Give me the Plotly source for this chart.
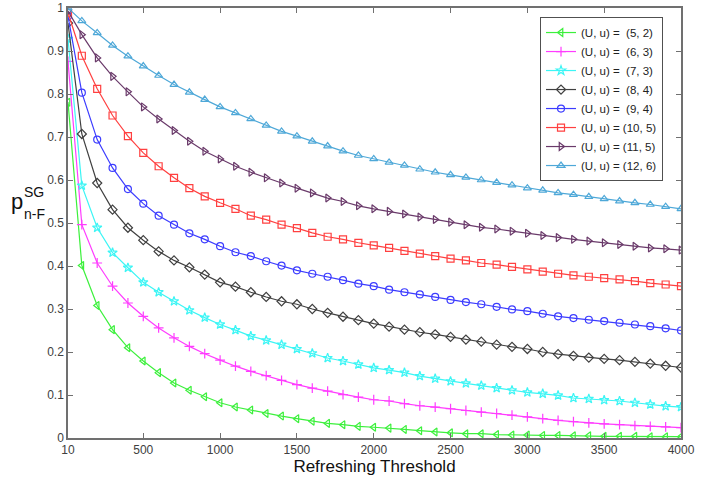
import plotly.graph_objects as go

x_vals = [10] + list(range(100, 4001, 100))

green_52 = [0.781,0.401,0.308,0.252,0.210,0.179,0.152,0.128,0.111,0.096,0.082,
            0.072,0.065,0.057,0.051,0.045,0.039,0.034,0.031,0.027,0.025,
            0.023,0.020,0.017,0.014,0.012,0.010,0.010,0.008,0.007,0.007,
            0.006,0.006,0.005,0.005,0.004,0.004,0.004,0.003,0.003,0.003]
magenta_63 = [0.876,0.496,0.407,0.353,0.314,0.283,0.256,0.233,0.213,0.196,0.181,
              0.167,0.155,0.145,0.134,0.124,0.116,0.109,0.101,0.095,0.089,
              0.086,0.080,0.075,0.072,0.068,0.064,0.060,0.057,0.053,0.049,
              0.045,0.041,0.038,0.035,0.033,0.031,0.029,0.027,0.026,0.024]
cyan_73 = [0.928,0.587,0.489,0.431,0.396,0.362,0.339,0.318,0.297,0.280,0.264,
           0.251,0.237,0.227,0.217,0.207,0.197,0.186,0.179,0.171,0.163,
           0.158,0.152,0.144,0.138,0.132,0.127,0.122,0.116,0.111,0.106,
           0.103,0.099,0.093,0.091,0.088,0.086,0.082,0.078,0.074,0.072]
black_84 = [0.965,0.707,0.593,0.531,0.489,0.460,0.434,0.413,0.397,0.380,0.362,
            0.352,0.339,0.328,0.318,0.311,0.300,0.291,0.282,0.274,0.266,
            0.259,0.252,0.246,0.241,0.235,0.229,0.224,0.217,0.212,0.207,
            0.200,0.195,0.191,0.187,0.184,0.181,0.177,0.173,0.168,0.164]
blue_94 = [0.981,0.803,0.694,0.628,0.579,0.545,0.517,0.496,0.476,0.462,0.446,
           0.432,0.423,0.411,0.401,0.390,0.382,0.375,0.367,0.359,0.353,
           0.345,0.339,0.334,0.328,0.321,0.316,0.311,0.305,0.299,0.295,
           0.289,0.283,0.279,0.275,0.272,0.268,0.264,0.260,0.255,0.250]
red_105 = [0.989,0.889,0.812,0.750,0.702,0.663,0.632,0.605,0.581,0.562,0.547,
           0.533,0.517,0.508,0.496,0.488,0.477,0.468,0.462,0.454,0.448,
           0.442,0.435,0.429,0.423,0.417,0.413,0.407,0.403,0.398,0.392,
           0.387,0.382,0.378,0.375,0.372,0.369,0.365,0.360,0.357,0.353]
purple_115 = [0.993,0.938,0.884,0.841,0.805,0.770,0.742,0.715,0.690,0.667,0.649,
              0.632,0.618,0.605,0.593,0.581,0.570,0.558,0.550,0.540,0.533,
              0.527,0.521,0.514,0.508,0.502,0.496,0.490,0.486,0.481,0.476,
              0.471,0.466,0.462,0.458,0.454,0.450,0.446,0.442,0.440,0.437]
lightblue_126 = [1.000,0.970,0.942,0.913,0.888,0.865,0.843,0.822,0.804,0.787,0.770,
                 0.756,0.742,0.727,0.713,0.702,0.690,0.679,0.667,0.657,0.649,
                 0.641,0.634,0.625,0.618,0.612,0.606,0.600,0.594,0.588,0.581,
                 0.576,0.570,0.566,0.561,0.556,0.551,0.547,0.543,0.538,0.533]

NB = "\u00a0"
labels = [f"(U, u) = {NB}(5, 2)", f"(U, u) = {NB}(6, 3)", f"(U, u) = {NB}(7, 3)",
          f"(U, u) = {NB}(8, 4)", f"(U, u) = {NB}(9, 4)", "(U, u) = (10, 5)",
          "(U, u) = (11, 5)", "(U, u) = (12, 6)"]
series = [green_52, magenta_63, cyan_73, black_84, blue_94, red_105, purple_115, lightblue_126]
colors = ["#3cf03c", "#ff3cff", "#3cf5f5", "#404040", "#3c3cff", "#ff4040", "#6a3a6a", "#4ea8d8"]
symbols = ["triangle-left-open", "cross-thin-open", "star-open", "diamond-open",
           "circle-open", "square-open", "triangle-right-open", "triangle-up-open"]

fig = go.Figure()
for lab, ys, c, s in zip(labels, series, colors, symbols):
    fig.add_trace(go.Scatter(
        x=x_vals, y=ys, name=lab, mode="lines+markers",
        line=dict(color=c, width=1.2),
        marker=dict(symbol=s, size=7, color=c, line=dict(color=c, width=1.2)),
    ))

axis_common = dict(showline=True, linecolor="#707070", linewidth=1.5, mirror="allticks",
                   ticks="inside", ticklen=5, tickcolor="#707070", showgrid=False,
                   zeroline=False, automargin=False,
                   tickfont=dict(family="Arial, Liberation Sans", size=12, color="#404040"))

fig.update_layout(
    width=722, height=482,
    margin=dict(l=68, r=41, t=8, b=44, autoexpand=False),
    paper_bgcolor="white", plot_bgcolor="white",
    font=dict(family="Arial, Liberation Sans", color="#222"),
    xaxis=dict(range=[10, 4000], tickvals=[10, 500, 1000, 1500, 2000, 2500, 3000, 3500, 4000],
               title=dict(text="Refreshing Threshold", font=dict(size=17, color="#111"), standoff=2),
               **axis_common),
    yaxis=dict(range=[0, 1], tickvals=[0, 0.1, 0.2, 0.3, 0.4, 0.5, 0.6, 0.7, 0.8, 0.9, 1],
               ticktext=["0", "0.1", "0.2", "0.3", "0.4", "0.5", "0.6", "0.7", "0.8", "0.9", "1"],
               **axis_common),
    legend=dict(x=0.77, y=0.979, xanchor="left", yanchor="top",
                bgcolor="white", bordercolor="#505050", borderwidth=1,
                font=dict(family="Arial, Liberation Sans", size=11.5, color="#222"),
                itemwidth=30, tracegroupgap=0),
    showlegend=True,
)

fig.add_annotation(text="p", xref="paper", yref="paper", x=-0.083, y=0.55,
                   showarrow=False, font=dict(size=22, color="#111"), xanchor="center", yanchor="middle")
fig.add_annotation(text="SG", xref="paper", yref="paper", x=-0.075, y=0.573,
                   showarrow=False, font=dict(size=14, color="#111"), xanchor="left", yanchor="middle")
fig.add_annotation(text="n-F", xref="paper", yref="paper", x=-0.075, y=0.521,
                   showarrow=False, font=dict(size=14, color="#111"), xanchor="left", yanchor="middle")

fig.write_html("out.html", config={"displayModeBar": False},
               post_script="document.body.style.margin='0';")
